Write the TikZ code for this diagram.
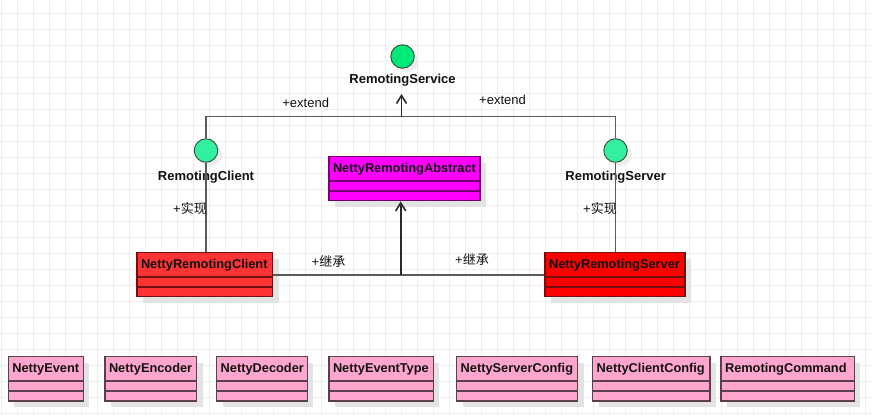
\documentclass[tikz,border=0pt]{standalone}
\usepackage{fontspec}
\setmainfont{Liberation Sans}
\newfontfamily\cjk{Noto Sans CJK SC}
\usetikzlibrary{arrows.meta,calc,fit,shadows}
\definecolor{gridc}{HTML}{EEEEEE}
\definecolor{pinkf}{RGB}{255,166,206}
\definecolor{pinkd}{HTML}{5A3F4C}
\definecolor{redcf}{HTML}{FF3333}
\definecolor{redsf}{HTML}{FF0000}
\definecolor{redd}{HTML}{701010}
\definecolor{magf}{HTML}{FF00FF}
\definecolor{magd}{HTML}{700070}
\definecolor{svcg}{RGB}{0,232,120}
\definecolor{mintg}{RGB}{50,240,160}
\definecolor{circd}{HTML}{2F4F3A}
\definecolor{connc}{HTML}{5A5A5A}
\definecolor{arrc}{HTML}{2A2A2A}
\definecolor{txtc}{HTML}{111111}
\tikzset{
  boxshape/.style={draw, line width=1.4pt, inner sep=0pt,
    drop shadow={shadow xshift=6pt, shadow yshift=-6pt, fill=black!11, opacity=1}},
  boxtext/.style={inner sep=0pt, anchor=west, text=txtc, font=\fontsize{12.8}{14}\selectfont\bfseries},
  iface/.style={circle, draw=circd, line width=0.9pt, minimum size=23.5pt, inner sep=0pt,
    drop shadow={shadow xshift=4pt, shadow yshift=-4pt, fill=black!7, opacity=1}},
  ilabel/.style={inner sep=0pt, text=txtc, font=\fontsize{13}{15}\selectfont\bfseries},
  elabel/.style={inner sep=0pt, text=txtc, font=\fontsize{13}{15}\selectfont},
  conn/.style={draw=connc, line width=1.5pt},
  arr/.style={draw=arrc, line width=1.6pt, -{Straight Barb[length=8pt,width=10pt]}},
}
% name, x1, y1, x2, y2, fill, draw, text, header height
\newcommand\umlclass[9]{%
  \coordinate (#1-nw) at (#2,#3);
  \coordinate (#1-se) at (#4,#5);
  \node[boxshape, fill=#6, draw=#7, fit=(#1-nw)(#1-se)] (#1) {};
  \draw[draw=#7, line width=1.4pt] ($(#1.north west)+(0,#9)$) -- ($(#1.north east)+(0,#9)$);
  \draw[draw=#7, line width=1.4pt] ($(#1.north west)+(0,#9+10)$) -- ($(#1.north east)+(0,#9+10)$);
  \node[boxtext] (#1-t) at ($(#1.north west)+(4.5,13)$) {#8};
}
\begin{document}
\begin{tikzpicture}[x=1pt,y=-1pt]
\useasboundingbox (0,0) rectangle (872,415);
\fill[white] (0,0) rectangle (872,415);
% grid
\foreach \gx in {1.7,17.7,...,872} \draw[gridc, line width=0.6pt] (\gx,0) -- (\gx,415);
\foreach \gy in {13.3,29.3,...,415} \draw[gridc, line width=0.6pt] (0,\gy) -- (872,\gy);

% interfaces
\node[iface, fill=svcg] (rs) at (402.5,56.5) {};
\node[ilabel] (rs-l) at (402.5,80.5) {RemotingService};
\coordinate (rs-in) at (401.5,94);

% connectors first (behind circles/boxes)
\coordinate (top-l) at (206,116.7);
\coordinate (top-m) at (401.5,116.7);
\coordinate (top-r) at (615.5,116.7);
\coordinate (mid) at (400.7,275);

\node[iface, fill=mintg] (rc) at (206,150.5) {};
\node[ilabel] (rc-l) at (206,176.7) {RemotingClient};
\node[iface, fill=mintg] (rsv) at (615.5,150.5) {};
\node[ilabel] (rsv-l) at (615.7,176.7) {RemotingServer};

% classes
\umlclass{nra}{329}{156.7}{480}{200.7}{magf}{magd}{NettyRemotingAbstract}{25}
\umlclass{nrc}{137}{252.7}{272.7}{296.7}{redcf}{redd}{NettyRemotingClient}{25}
\umlclass{nrs}{545}{252.7}{685}{296.7}{redsf}{redd}{NettyRemotingServer}{25}

\umlclass{ne}{8.3}{356.7}{83.3}{401}{pinkf}{pinkd}{NettyEvent}{25}
\umlclass{nen}{105}{356.7}{196.7}{401}{pinkf}{pinkd}{NettyEncoder}{25}
\umlclass{nde}{216.7}{356.7}{307.3}{401}{pinkf}{pinkd}{NettyDecoder}{25}
\umlclass{net}{329}{356.7}{433.3}{401}{pinkf}{pinkd}{NettyEventType}{25}
\umlclass{nsc}{456.7}{356.7}{577.7}{401}{pinkf}{pinkd}{NettyServerConfig}{25}
\umlclass{ncc}{592.7}{356.7}{710}{401}{pinkf}{pinkd}{NettyClientConfig}{25}
\umlclass{rcm}{721}{356.7}{854.3}{401}{pinkf}{pinkd}{RemotingCommand}{25}

% connectors
\draw[conn] (rc.north) -- (top-l) -- (top-r) -- (rsv.north);
\draw[arr] (top-m) -- (rs-in);
\draw[conn] (rc.south) -- (rc.south |- nrc.north);
\draw[conn] (rsv.south) -- (rsv.south |- nrs.north);
\draw[conn] (nrc.east |- mid) -- (nrs.west |- mid);
\draw[arr] (mid) -- (mid |- nra.south);

% edge labels
\node[elabel] (ext-l) at (305.7,103.3) {+extend};
\node[elabel] (ext-r) at (502.5,99.5) {+extend};
\node[elabel] (imp-l) at (190,209) {+{\cjk 实现}};
\node[elabel] (imp-r) at (600,209) {+{\cjk 实现}};
\node[elabel] (inh-l) at (328.5,261) {+{\cjk 继承}};
\node[elabel] (inh-r) at (472,259.5) {+{\cjk 继承}};
\end{tikzpicture}
\end{document}
